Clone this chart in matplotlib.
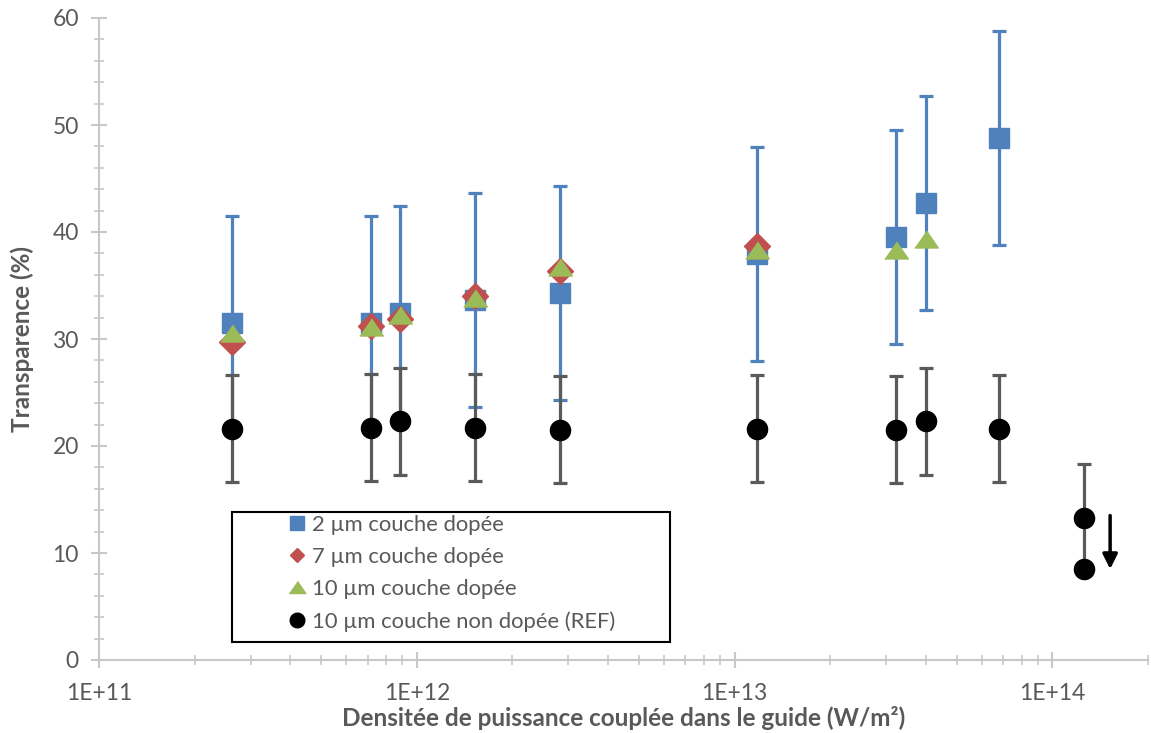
import matplotlib
matplotlib.use("Agg")
import matplotlib.pyplot as plt
from matplotlib.ticker import LogLocator, FuncFormatter, MultipleLocator
from matplotlib.patches import Rectangle
import numpy as np

plt.rcParams['font.family'] = ['Lato', 'DejaVu Sans']

# data
x_all = [2.62e11, 7.17e11, 8.83e11, 1.53e12, 2.82e12, 1.175e13, 3.21e13, 3.99e13, 6.78e13]
blue_y = [31.5, 31.5, 32.4, 33.6, 34.3, 37.9, 39.5, 42.7, 48.8]
blue_err = [10, 10, 10, 10, 10, 10, 10, 10, 10]

red_x = [2.62e11, 7.17e11, 8.83e11, 1.53e12, 2.82e12, 1.175e13]
red_y = [29.7, 31.2, 31.9, 34.0, 36.4, 38.7]

green_x = [2.62e11, 7.17e11, 8.83e11, 1.53e12, 2.82e12, 1.175e13, 3.21e13, 3.99e13]
green_y = [30.6, 31.1, 32.2, 33.8, 36.7, 38.3, 38.3, 39.3]

ref_x = [2.62e11, 7.17e11, 8.83e11, 1.53e12, 2.82e12, 1.175e13, 3.21e13, 3.99e13, 6.78e13, 1.26e14, 1.26e14]
ref_y = [21.6, 21.7, 22.3, 21.7, 21.5, 21.6, 21.5, 22.3, 21.6, 13.3, 8.5]
ref_err = [5, 5, 5, 5, 5, 5, 5, 5, 5, 5, 0]

labels = ["2 µm couche dopée", "7 µm couche dopée", "10 µm couche dopée",
          "10 µm couche non dopée (REF)"]

blue = "#4F81BD"
red = "#C0504D"
green = "#9BBB59"
grey_bar = "#5A5A5A"
text_col = "#595959"
axis_col = "#C8C8C8"

fig = plt.figure(figsize=(11.51, 7.33), dpi=100)
ax = fig.add_axes([99 / 1151, 73 / 733, 1049 / 1151, 642 / 733])

# blue series with error bars
ax.errorbar(x_all, blue_y, yerr=blue_err, fmt='none', ecolor=blue,
            elinewidth=2.3, capsize=5, capthick=2.3, zorder=2)
ax.plot(x_all, blue_y, 's', ms=14, color=blue, mec=blue, label=labels[0], zorder=3)
ax.plot(red_x, red_y, 'D', ms=13.5, color=red, mec=red, label=labels[1], zorder=4)
tri = [(-1, -0.72), (1, -0.72), (0, 0.72)]
ax.plot(green_x, green_y, marker=tri, ls='none', ms=17, color=green, mec=green,
        label=labels[2], zorder=5)
ax.errorbar(ref_x, ref_y, yerr=ref_err, fmt='none', ecolor=grey_bar,
            elinewidth=2.3, capsize=5, capthick=2.3, zorder=6)
ax.plot(ref_x, ref_y, 'o', ms=14.5, color='black', mec='black', label=labels[3], zorder=7)

# arrow next to the last point
ax.annotate('', xy=(1.52e14, 8.5), xytext=(1.52e14, 13.5),
            arrowprops=dict(arrowstyle='-|>', color='black', lw=2.5,
                            mutation_scale=22, shrinkA=0, shrinkB=0))

ax.set_xscale('log')
ax.set_xlim(1e11, 2e14)
ax.set_ylim(0, 60)
ax.xaxis.set_major_locator(LogLocator(base=10, numticks=10))
ax.xaxis.set_minor_locator(LogLocator(base=10, subs=np.arange(2, 10), numticks=20))
ax.xaxis.set_major_formatter(FuncFormatter(lambda v, p: "1E+%d" % round(np.log10(v))))
ax.xaxis.set_minor_formatter(FuncFormatter(lambda v, p: ""))
ax.yaxis.set_major_locator(MultipleLocator(10))
ax.yaxis.set_minor_locator(MultipleLocator(2))

for s in ['top', 'right']:
    ax.spines[s].set_visible(False)
for s in ['left', 'bottom']:
    ax.spines[s].set_color(axis_col)
    ax.spines[s].set_linewidth(1.5)

ax.tick_params(which='major', direction='inout', length=11, width=1.5, color=axis_col,
               labelcolor=text_col, labelsize=16.5)
ax.tick_params(which='minor', direction='inout', length=7, width=1.2, color=axis_col)
ax.tick_params(axis='y', which='major', pad=9)
ax.tick_params(axis='x', which='major', pad=11)

ax.set_xlabel("Densitée de puissance couplée dans le guide (W/m²)", fontsize=17.5,
              fontweight='bold', color=text_col, va='center')
ax.set_ylabel("Transparence (%)", fontsize=17.5, fontweight='bold', color=text_col,
              va='center')
ax.xaxis.set_label_coords(0.5, (660 - 718) / 642)
ax.yaxis.set_label_coords((22 - 99) / 1049, 0.5)

leg = ax.legend(loc='upper left', bbox_to_anchor=(287 / 1151, 1 - 515 / 733),
                bbox_transform=fig.transFigure, frameon=False, fontsize=15.8,
                handlelength=0.9, handletextpad=0.25, labelspacing=0.55,
                borderpad=0, borderaxespad=0)
for t in leg.get_texts():
    t.set_color(text_col)
for h, size in zip(leg.legend_handles, [10, 7.5, 12, 10.5]):
    h.set_markersize(size)

fig.patches.append(Rectangle((232 / 1151, 1 - 642 / 733), 438 / 1151, 130 / 733,
                             transform=fig.transFigure, fill=False,
                             edgecolor='black', linewidth=1.5, zorder=10))

fig.savefig("out.png", dpi=100)
